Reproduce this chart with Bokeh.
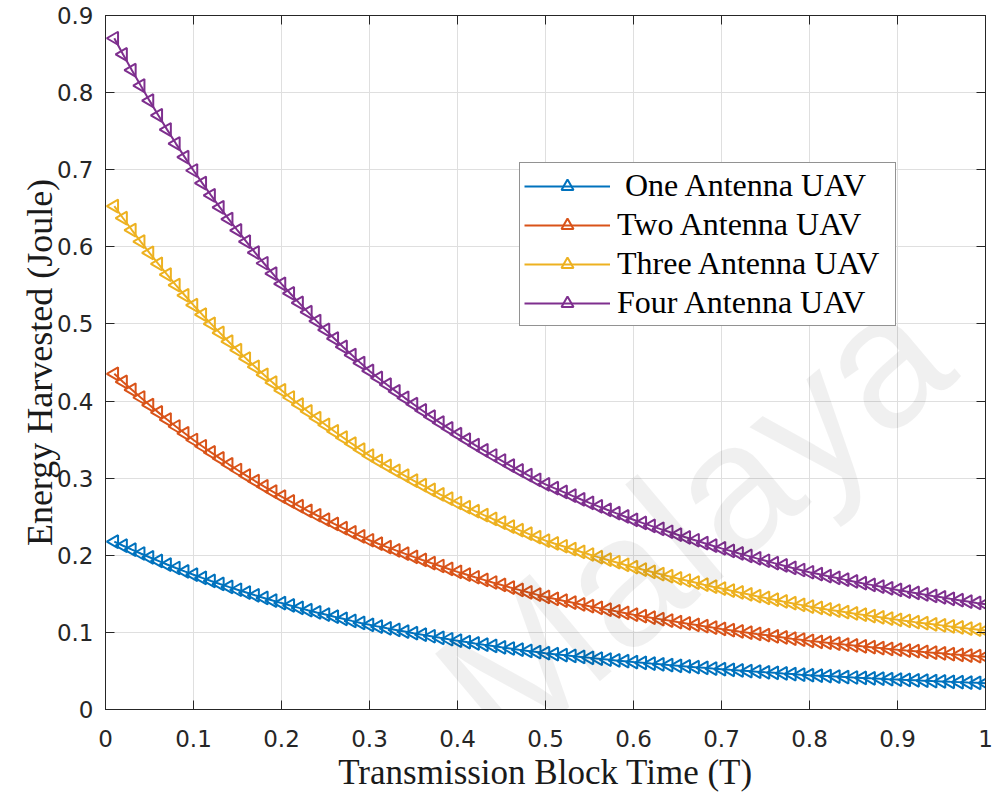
import math
from bokeh.plotting import figure
from bokeh.models import (Range1d, FixedTicker, LinearAxis, Legend, LegendItem, Label,
                          ColumnDataSource)
from bokeh.embed import file_html
from bokeh.resources import INLINE

# ---------------- data ----------------
transmission_time = [
    0.01, 0.02, 0.03, 0.04, 0.05, 0.06, 0.07, 0.08, 0.09, 0.10,
    0.11, 0.12, 0.13, 0.14, 0.15, 0.16, 0.17, 0.18, 0.19, 0.20,
    0.21, 0.22, 0.23, 0.24, 0.25, 0.26, 0.27, 0.28, 0.29, 0.30,
    0.31, 0.32, 0.33, 0.34, 0.35, 0.36, 0.37, 0.38, 0.39, 0.40,
    0.41, 0.42, 0.43, 0.44, 0.45, 0.46, 0.47, 0.48, 0.49, 0.50,
    0.51, 0.52, 0.53, 0.54, 0.55, 0.56, 0.57, 0.58, 0.59, 0.60,
    0.61, 0.62, 0.63, 0.64, 0.65, 0.66, 0.67, 0.68, 0.69, 0.70,
    0.71, 0.72, 0.73, 0.74, 0.75, 0.76, 0.77, 0.78, 0.79, 0.80,
    0.81, 0.82, 0.83, 0.84, 0.85, 0.86, 0.87, 0.88, 0.89, 0.90,
    0.91, 0.92, 0.93, 0.94, 0.95, 0.96, 0.97, 0.98, 0.99, 1.00,
]

energy_one_antenna = [
    0.2176, 0.2124, 0.2073, 0.2023, 0.1974, 0.1927, 0.1880, 0.1835, 0.1791, 0.1748,
    0.1707, 0.1667, 0.1628, 0.1590, 0.1553, 0.1517, 0.1481, 0.1447, 0.1413, 0.1380,
    0.1349, 0.1318, 0.1288, 0.1259, 0.1231, 0.1203, 0.1176, 0.1149, 0.1123, 0.1098,
    0.1075, 0.1053, 0.1032, 0.1011, 0.0990, 0.0970, 0.0950, 0.0930, 0.0911, 0.0893,
    0.0875, 0.0857, 0.0840, 0.0824, 0.0807, 0.0791, 0.0775, 0.0760, 0.0745, 0.0730,
    0.0718, 0.0706, 0.0694, 0.0682, 0.0670, 0.0659, 0.0648, 0.0637, 0.0626, 0.0615,
    0.0605, 0.0595, 0.0586, 0.0576, 0.0567, 0.0558, 0.0549, 0.0540, 0.0531, 0.0523,
    0.0514, 0.0506, 0.0498, 0.0490, 0.0482, 0.0475, 0.0467, 0.0460, 0.0452, 0.0445,
    0.0439, 0.0433, 0.0427, 0.0421, 0.0415, 0.0410, 0.0404, 0.0399, 0.0393, 0.0388,
    0.0383, 0.0378, 0.0373, 0.0368, 0.0364, 0.0359, 0.0355, 0.0350, 0.0346, 0.0341,
]

energy_two_antenna = [
    0.4353, 0.4248, 0.4146, 0.4046, 0.3948, 0.3853, 0.3760, 0.3670, 0.3582, 0.3495,
    0.3414, 0.3334, 0.3256, 0.3180, 0.3106, 0.3034, 0.2963, 0.2894, 0.2826, 0.2760,
    0.2698, 0.2637, 0.2577, 0.2519, 0.2462, 0.2406, 0.2351, 0.2298, 0.2246, 0.2195,
    0.2150, 0.2106, 0.2063, 0.2021, 0.1980, 0.1939, 0.1899, 0.1861, 0.1823, 0.1785,
    0.1750, 0.1715, 0.1681, 0.1647, 0.1615, 0.1582, 0.1551, 0.1520, 0.1490, 0.1460,
    0.1435, 0.1411, 0.1387, 0.1363, 0.1340, 0.1318, 0.1295, 0.1273, 0.1252, 0.1230,
    0.1210, 0.1191, 0.1172, 0.1153, 0.1134, 0.1116, 0.1098, 0.1080, 0.1062, 0.1045,
    0.1029, 0.1012, 0.0996, 0.0980, 0.0965, 0.0949, 0.0934, 0.0919, 0.0905, 0.0890,
    0.0878, 0.0866, 0.0854, 0.0842, 0.0831, 0.0819, 0.0808, 0.0797, 0.0786, 0.0775,
    0.0765, 0.0756, 0.0746, 0.0737, 0.0728, 0.0718, 0.0709, 0.0700, 0.0691, 0.0683,
]

energy_three_antenna = [
    0.6529, 0.6371, 0.6218, 0.6068, 0.5922, 0.5780, 0.5640, 0.5504, 0.5372, 0.5243,
    0.5120, 0.5001, 0.4884, 0.4770, 0.4659, 0.4550, 0.4444, 0.4340, 0.4239, 0.4140,
    0.4046, 0.3955, 0.3865, 0.3778, 0.3692, 0.3608, 0.3527, 0.3447, 0.3369, 0.3293,
    0.3225, 0.3159, 0.3095, 0.3032, 0.2969, 0.2909, 0.2849, 0.2791, 0.2734, 0.2678,
    0.2624, 0.2572, 0.2521, 0.2471, 0.2422, 0.2373, 0.2326, 0.2280, 0.2234, 0.2190,
    0.2153, 0.2117, 0.2081, 0.2045, 0.2010, 0.1976, 0.1943, 0.1910, 0.1877, 0.1845,
    0.1815, 0.1786, 0.1757, 0.1729, 0.1700, 0.1673, 0.1646, 0.1619, 0.1593, 0.1568,
    0.1543, 0.1518, 0.1494, 0.1470, 0.1447, 0.1424, 0.1401, 0.1379, 0.1357, 0.1335,
    0.1317, 0.1298, 0.1281, 0.1263, 0.1246, 0.1229, 0.1212, 0.1196, 0.1179, 0.1163,
    0.1148, 0.1133, 0.1119, 0.1105, 0.1091, 0.1077, 0.1064, 0.1050, 0.1037, 0.1024,
]

energy_four_antenna = [
    0.8705, 0.8495, 0.8291, 0.8091, 0.7896, 0.7706, 0.7520, 0.7339, 0.7163, 0.6990,
    0.6827, 0.6668, 0.6512, 0.6360, 0.6212, 0.6067, 0.5925, 0.5787, 0.5652, 0.5520,
    0.5395, 0.5273, 0.5153, 0.5037, 0.4923, 0.4811, 0.4702, 0.4596, 0.4492, 0.4390,
    0.4300, 0.4212, 0.4126, 0.4042, 0.3959, 0.3878, 0.3798, 0.3721, 0.3645, 0.3570,
    0.3499, 0.3429, 0.3361, 0.3294, 0.3229, 0.3164, 0.3101, 0.3040, 0.2979, 0.2920,
    0.2870, 0.2822, 0.2774, 0.2726, 0.2680, 0.2635, 0.2590, 0.2546, 0.2503, 0.2460,
    0.2420, 0.2381, 0.2343, 0.2305, 0.2267, 0.2231, 0.2195, 0.2159, 0.2124, 0.2090,
    0.2057, 0.2024, 0.1992, 0.1960, 0.1929, 0.1898, 0.1868, 0.1838, 0.1809, 0.1780,
    0.1756, 0.1731, 0.1708, 0.1684, 0.1661, 0.1638, 0.1616, 0.1594, 0.1572, 0.1550,
    0.1530, 0.1511, 0.1492, 0.1473, 0.1455, 0.1436, 0.1418, 0.1400, 0.1382, 0.1365,
]

series_labels = ["\u00a0One Antenna UAV", "Two Antenna UAV",
                 "Three Antenna UAV", "Four Antenna UAV"]
series_values = [energy_one_antenna, energy_two_antenna,
                 energy_three_antenna, energy_four_antenna]
series_colors = ["#0072BD", "#D95319", "#EDB120", "#7E2F8E"]

x_ticks = [0.0, 0.1, 0.2, 0.3, 0.4, 0.5, 0.6, 0.7, 0.8, 0.9, 1.0]
x_tick_labels = ["0", "0.1", "0.2", "0.3", "0.4", "0.5", "0.6", "0.7", "0.8", "0.9", "1"]
y_ticks = [0.0, 0.1, 0.2, 0.3, 0.4, 0.5, 0.6, 0.7, 0.8, 0.9]
y_tick_labels = ["0", "0.1", "0.2", "0.3", "0.4", "0.5", "0.6", "0.7", "0.8", "0.9"]

x_title = "Transmission Block Time (T)"
y_title = "Energy Harvested (Joule)"
watermark_text = "Malaya"

# ---------------- styling ----------------
AXIS_COLOR = "#262626"
GRID_COLOR = "#dfdfdf"
TICK_FONT = "DejaVu Sans"
LABEL_FONT = "Liberation Serif"

p = figure(width=993, height=794, output_backend="svg", toolbar_location=None,
           x_range=Range1d(0, 1), y_range=Range1d(0, 0.9),
           min_border_left=105, min_border_right=8,
           min_border_top=15, min_border_bottom=85,
           background_fill_color="white", border_fill_color="white",
           outline_line_color=AXIS_COLOR, outline_line_width=1)

p.xaxis.ticker = FixedTicker(ticks=x_ticks)
p.yaxis.ticker = FixedTicker(ticks=y_ticks)
p.xaxis.major_label_overrides = dict(zip(x_ticks, x_tick_labels))
p.yaxis.major_label_overrides = dict(zip(y_ticks, y_tick_labels))
p.xgrid.ticker = FixedTicker(ticks=x_ticks)
p.ygrid.ticker = FixedTicker(ticks=y_ticks)
p.grid.grid_line_color = GRID_COLOR
p.grid.grid_line_width = 1

for ax in (p.xaxis, p.yaxis):
    ax.axis_line_color = AXIS_COLOR
    ax.axis_line_width = 1
    ax.major_tick_line_color = AXIS_COLOR
    ax.major_tick_in = 9
    ax.major_tick_out = 0
    ax.minor_tick_line_color = None
    ax.major_label_text_font = TICK_FONT
    ax.major_label_text_font_size = "23px"
    ax.major_label_text_color = AXIS_COLOR
    ax.axis_label_text_font = LABEL_FONT
    ax.axis_label_text_font_style = "normal"
    ax.axis_label_text_color = "#1a1a1a"

p.xaxis.axis_label = x_title
p.yaxis.axis_label = y_title
p.xaxis.axis_label_text_font_size = "35px"
p.yaxis.axis_label_text_font_size = "36px"
p.xaxis.major_label_standoff = 20
p.yaxis.major_label_standoff = 12
p.xaxis.axis_label_standoff = 3
p.yaxis.axis_label_standoff = -6

# top and right tick-only axes (box look)
top_ax = LinearAxis(ticker=FixedTicker(ticks=x_ticks),
                    major_label_overrides={t: "" for t in x_ticks})
right_ax = LinearAxis(ticker=FixedTicker(ticks=y_ticks),
                      major_label_overrides={t: "" for t in y_ticks})
for ax in (top_ax, right_ax):
    ax.axis_line_color = AXIS_COLOR
    ax.major_tick_line_color = AXIS_COLOR
    ax.major_tick_in = 9
    ax.major_tick_out = 0
    ax.minor_tick_line_color = None
    ax.major_label_standoff = 0
p.add_layout(top_ax, "above")
p.add_layout(right_ax, "right")

items = []
for label, vals, color in zip(series_labels, series_values, series_colors):
    src = ColumnDataSource(dict(x=transmission_time, y=vals))
    lr = p.line("x", "y", source=src, line_color=color, line_width=2)
    # triangle rotated 90 degrees anticlockwise -> points left (MATLAB '<' marker)
    sr = p.scatter("x", "y", source=src, marker="triangle", angle=math.pi / 2,
                   size=13, line_color=color, line_width=2, fill_color=None)
    items.append(LegendItem(label=label, renderers=[lr, sr]))

legend = Legend(items=items, location=(414, 383),
                label_text_font=LABEL_FONT, label_text_font_size="32px",
                label_text_color="#000000",
                glyph_width=86, glyph_height=30, label_height=30, label_width=274,
                label_standoff=7, spacing=2, padding=4, margin=0,
                border_line_color=AXIS_COLOR, border_line_width=1,
                background_fill_color="white", background_fill_alpha=1)
p.add_layout(legend)

wm = Label(x=0.483, y=-0.105, text=watermark_text, angle=0.70,
           text_font="Liberation Sans", text_font_size="185px",
           text_color="#000000", text_alpha=0.06)
p.add_layout(wm)

open("out.html", "w").write(file_html(p, INLINE))
